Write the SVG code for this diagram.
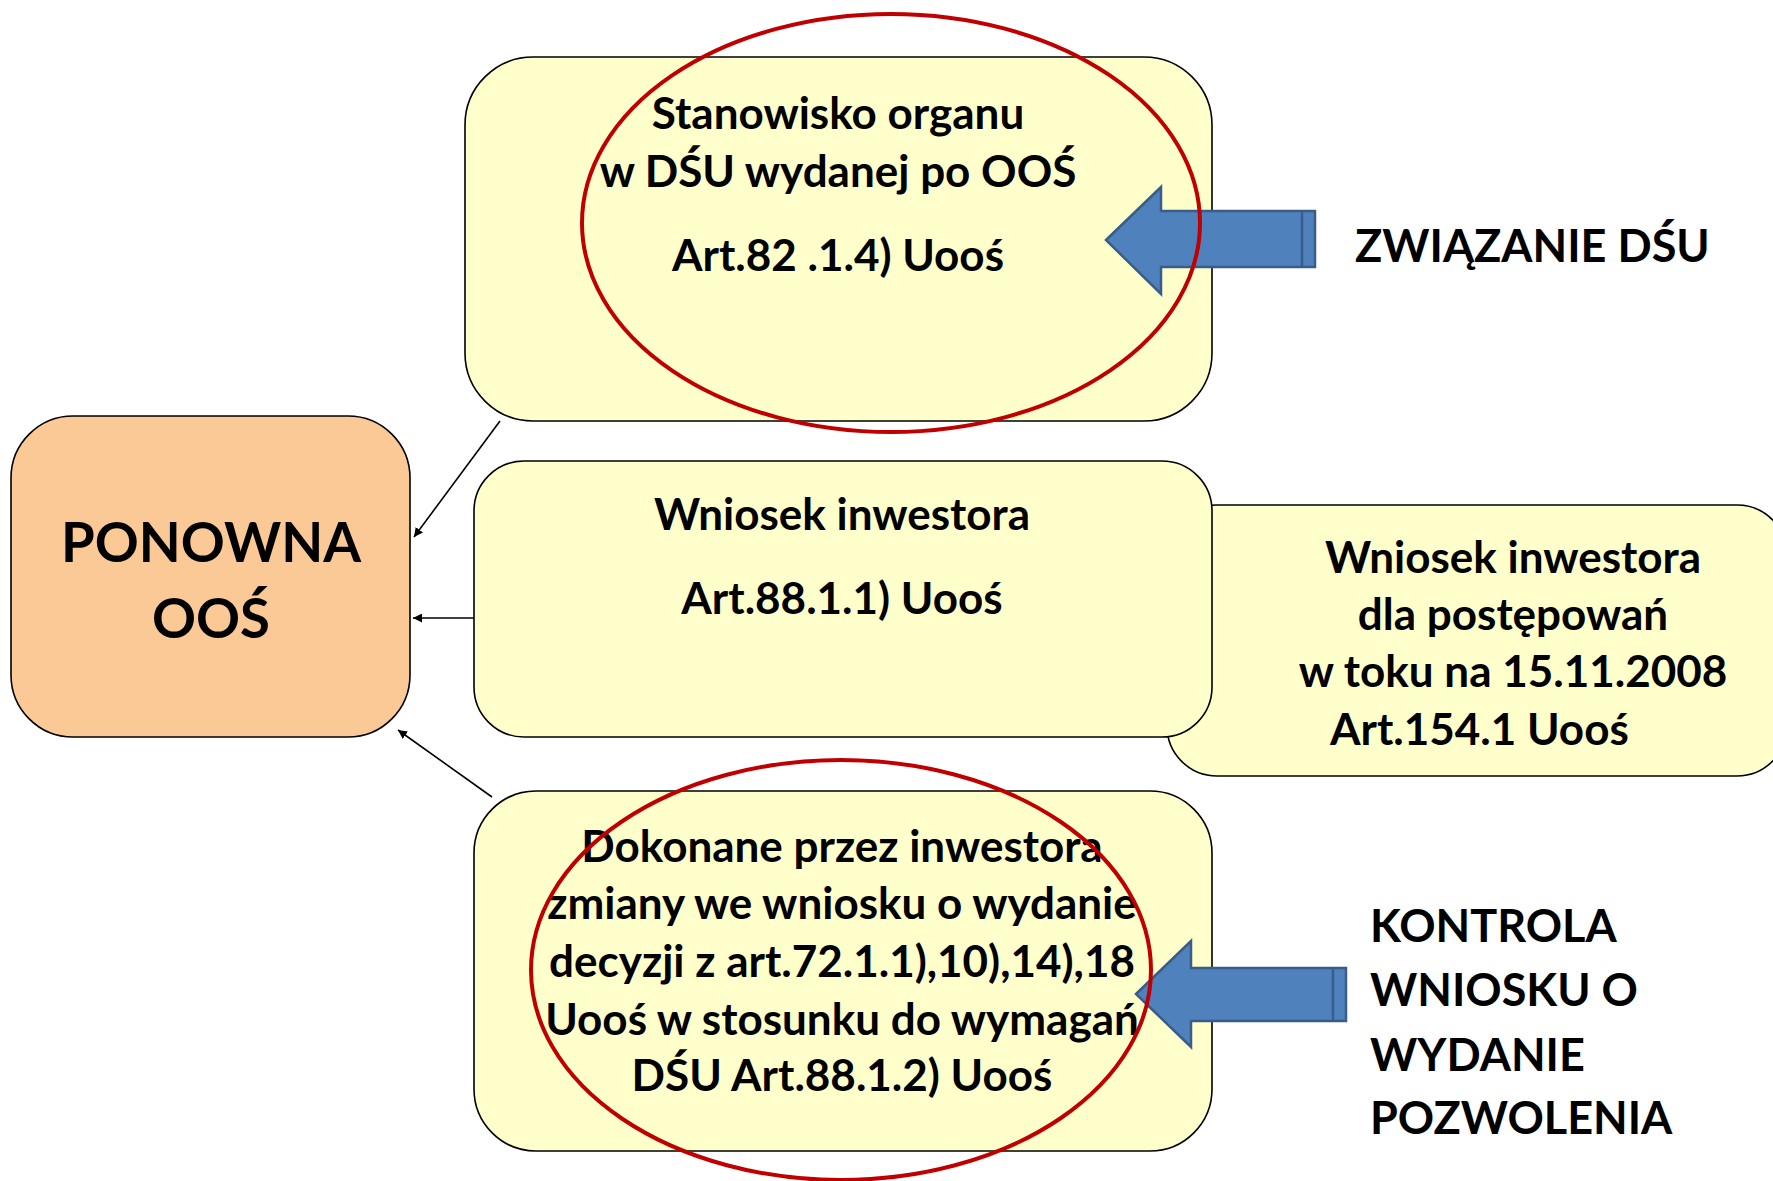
<svg xmlns="http://www.w3.org/2000/svg" width="1773" height="1181" viewBox="0 0 1773 1181">
<defs>
<style>
.box{fill:#FFFFCC;stroke:#000;stroke-width:1.6}
.main{fill:#FBC996;stroke:#000;stroke-width:1.6}
.t{font-family:Lato,"Open Sans","Liberation Sans",sans-serif;font-weight:bold;fill:#000}
.b{font-size:44px;text-anchor:middle}
.h{font-size:45px}
.ell{fill:none;stroke:#C00000;stroke-width:4}
.arr{fill:#4F81BD;stroke:#385D8A;stroke-width:2.5}
.con{stroke:#000;stroke-width:1.6;fill:none;marker-end:url(#ah)}
</style>
<marker id="ah" viewBox="0 0 10 10" refX="10" refY="5" markerWidth="9" markerHeight="9" markerUnits="userSpaceOnUse" orient="auto">
<path d="M0,0 L10,5 L0,10 z" fill="#000"/>
</marker>
</defs>
<rect width="1773" height="1181" fill="#fff"/>

<g id="connectors">
<line class="con" x1="500" y1="421" x2="414" y2="537"/>
<line class="con" x1="474" y1="618" x2="413" y2="618"/>
<line class="con" x1="492" y1="797" x2="398" y2="730"/>
</g>

<g id="node-ponowna">
<rect class="main" x="11" y="416" width="399" height="321" rx="62" ry="62"/>
<text class="t" x="211" y="562" font-size="54.5" text-anchor="middle">PONOWNA</text>
<text class="t" x="211" y="638" font-size="54.5" text-anchor="middle">OOŚ</text>
</g>

<g id="node-art154">
<rect class="box" x="1167" y="505" width="620" height="271" rx="50" ry="50"/>
<text class="t b" x="1513" y="573">Wniosek inwestora</text>
<text class="t b" x="1513" y="630">dla postępowań</text>
<text class="t b" x="1513" y="687">w toku na 15.11.2008</text>
<text class="t" x="1330" y="745" font-size="44">Art.154.1 Uooś</text>
</g>

<g id="node-stanowisko">
<rect class="box" x="465" y="57" width="747" height="364" rx="68" ry="68"/>
<text class="t b" x="838" y="129">Stanowisko organu</text>
<text class="t b" x="838" y="187">w DŚU wydanej po OOŚ</text>
<text class="t b" x="838" y="271">Art.82 .1.4) Uooś</text>
</g>

<g id="node-wniosek">
<rect class="box" x="474" y="461" width="738" height="276" rx="50" ry="50"/>
<text class="t b" x="842" y="530">Wniosek inwestora</text>
<text class="t b" x="842" y="614">Art.88.1.1) Uooś</text>
</g>

<g id="node-dokonane">
<rect class="box" x="474" y="791" width="738" height="360" rx="62" ry="62"/>
<text class="t b" x="842" y="862">Dokonane przez inwestora</text>
<text class="t b" x="842" y="919">zmiany we wniosku o wydanie</text>
<text class="t b" x="842" y="977">decyzji z art.72.1.1),10),14),18</text>
<text class="t b" x="842" y="1035">Uooś w stosunku do wymagań</text>
<text class="t b" x="842" y="1091">DŚU Art.88.1.2) Uooś</text>
</g>

<g id="arrow-zwiazanie">
<polygon class="arr" points="1106,240 1161,187 1161,211 1315,211 1315,267 1161,267 1161,294"/>
<line x1="1302" y1="211" x2="1302" y2="267" stroke="#385D8A" stroke-width="2.5"/>
</g>
<g id="arrow-kontrola">
<polygon class="arr" points="1136,994 1191,941 1191,968 1346,968 1346,1021 1191,1021 1191,1047"/>
<line x1="1333" y1="968" x2="1333" y2="1021" stroke="#385D8A" stroke-width="2.5"/>
</g>

<g id="ellipse-top"><ellipse class="ell" cx="891" cy="223" rx="309" ry="209"/></g>
<g id="ellipse-bottom"><ellipse class="ell" cx="841" cy="970" rx="310" ry="210"/></g>

<g id="label-zwiazanie">
<text class="t h" x="1355" y="262">ZWIĄZANIE DŚU</text>
</g>
<g id="label-kontrola">
<text class="t h" x="1370" y="942">KONTROLA</text>
<text class="t h" x="1370" y="1006">WNIOSKU O</text>
<text class="t h" x="1370" y="1071">WYDANIE</text>
<text class="t h" x="1370" y="1134">POZWOLENIA</text>
</g>
</svg>
